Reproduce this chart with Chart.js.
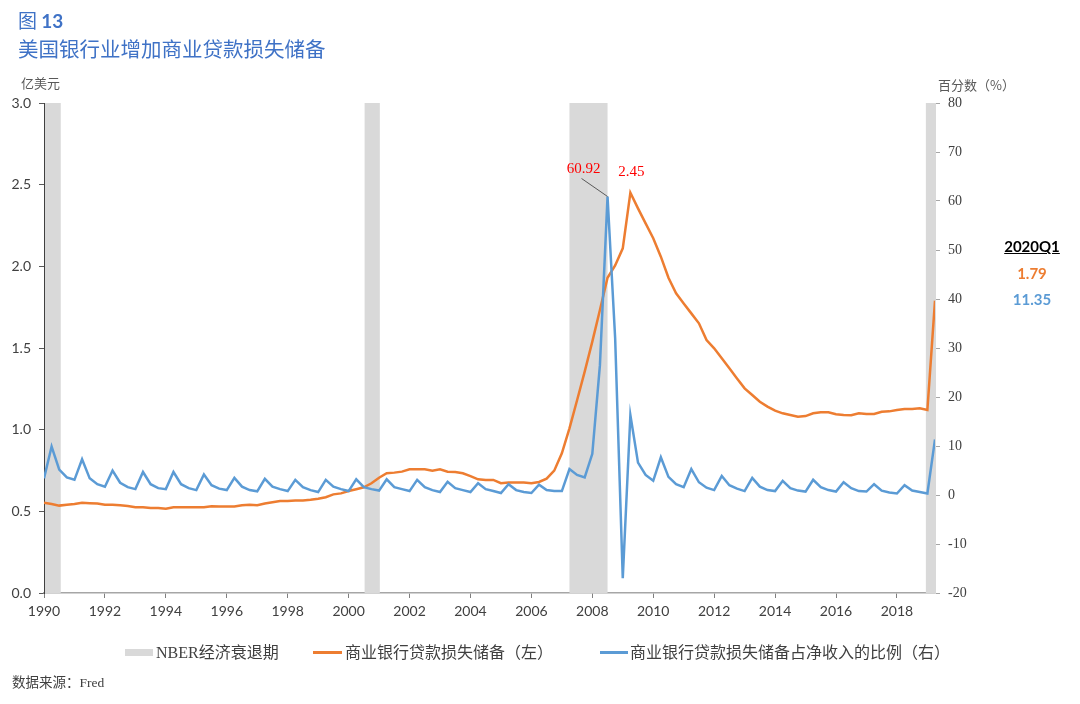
<!DOCTYPE html>
<html>
<head>
<meta charset="utf-8">
<script src="https://cdn.jsdelivr.net/npm/chart.js@4.4.1/dist/chart.umd.min.js"></script>
<style>
  html, body { margin: 0; padding: 0; background: #fff; }
  #wrap { position: relative; width: 1080px; height: 704px; overflow: hidden; background: #fff; }
  #c { position: absolute; left: 0; top: 0; }
  .t { position: absolute; white-space: nowrap; line-height: 1; }
  .cjk { font-family: "Noto Sans CJK SC", "Noto Sans", sans-serif; }
  .serif { font-family: "Liberation Serif", "Noto Sans CJK SC", serif; }
  .sw { position: absolute; }
</style>
</head>
<body>
<div id="wrap">
  <canvas id="c" width="1080" height="704"></canvas>

  <div class="t cjk" style="left:18px;top:10px;font-size:19px;color:#3F72C6;"><span>图</span> <span style="font-family:Lato,'Noto Sans',sans-serif;font-weight:700;">13</span></div>
  <div class="t cjk" style="left:18px;top:38px;font-size:20.5px;color:#3F72C6;">美国银行业增加商业贷款损失储备</div>

  <div class="t cjk" style="left:21px;top:76px;font-size:13px;color:#595959;">亿美元</div>
  <div class="t cjk" style="left:938px;top:78px;font-size:13px;color:#595959;">百分数（%）</div>

  <div class="t" style="left:996px;top:239px;width:72px;text-align:center;font-family:Lato,sans-serif;font-weight:700;font-size:15px;color:#000;text-decoration:underline;">2020Q1</div>
  <div class="t" style="left:996px;top:266px;width:72px;text-align:center;font-family:Lato,sans-serif;font-weight:700;font-size:15px;color:#ED7D31;">1.79</div>
  <div class="t" style="left:996px;top:292px;width:72px;text-align:center;font-family:Lato,sans-serif;font-weight:700;font-size:15px;color:#5B9BD5;">11.35</div>

  <div class="sw" style="left:125px;top:649px;width:28px;height:7px;background:#D9D9D9;"></div>
  <div class="t serif" style="left:156px;top:645px;font-size:16px;color:#404040;">NBER经济衰退期</div>
  <div class="sw" style="left:313px;top:651px;width:29px;height:3px;background:#ED7D31;"></div>
  <div class="t serif" style="left:345px;top:645px;font-size:16px;color:#404040;">商业银行贷款损失储备（左）</div>
  <div class="sw" style="left:600px;top:651px;width:28px;height:3px;background:#5B9BD5;"></div>
  <div class="t serif" style="left:630px;top:645px;font-size:16px;color:#404040;">商业银行贷款损失储备占净收入的比例（右）</div>

  <div class="t serif" style="left:12px;top:676px;font-size:13.5px;color:#404040;">数据来源：Fred</div>
</div>
<script>
// Quarterly series, index 0 = first quarter shown on the axis
const loanLossReserve = [
  0.553, 0.545, 0.535, 0.540, 0.545, 0.553, 0.550, 0.548, 0.540, 0.540,
  0.537, 0.533, 0.525, 0.525, 0.521, 0.521, 0.516, 0.525, 0.525, 0.525,
  0.525, 0.525, 0.531, 0.529, 0.529, 0.529, 0.537, 0.540, 0.537, 0.548,
  0.555, 0.563, 0.563, 0.567, 0.567, 0.571, 0.577, 0.586, 0.604, 0.610,
  0.624, 0.635, 0.647, 0.672, 0.706, 0.733, 0.737, 0.743, 0.757, 0.757,
  0.757, 0.749, 0.757, 0.743, 0.741, 0.733, 0.716, 0.696, 0.692, 0.692,
  0.672, 0.676, 0.676, 0.676, 0.672, 0.680, 0.700, 0.749, 0.855, 1.008,
  1.180, 1.355, 1.539, 1.733, 1.930, 2.005, 2.110, 2.451, 2.355, 2.263,
  2.172, 2.059, 1.930, 1.835, 1.773, 1.712, 1.651, 1.549, 1.498, 1.437,
  1.376, 1.314, 1.253, 1.212, 1.171, 1.141, 1.116, 1.100, 1.090, 1.079,
  1.083, 1.100, 1.106, 1.106, 1.094, 1.090, 1.088, 1.100, 1.096, 1.096,
  1.110, 1.112, 1.120, 1.127, 1.127, 1.131, 1.120, 1.790
];
const reserveToNetIncome = [
  3.4, 9.9, 5.2, 3.6, 3.1, 7.3, 3.4, 2.2, 1.7, 5.0,
  2.5, 1.6, 1.2, 4.7, 2.2, 1.4, 1.2, 4.7, 2.2, 1.4,
  1.0, 4.2, 2.0, 1.3, 1.0, 3.5, 1.7, 1.0, 0.75, 3.3,
  1.7, 1.2, 0.8, 3.1, 1.6, 1.0, 0.6, 3.1, 1.7, 1.2,
  0.8, 3.2, 1.6, 1.2, 0.9, 3.2, 1.6, 1.2, 0.8, 3.1,
  1.6, 1.0, 0.6, 2.7, 1.4, 1.0, 0.6, 2.4, 1.2, 0.8,
  0.4, 2.2, 1.0, 0.6, 0.4, 2.1, 1.0, 0.8, 0.8, 5.3,
  4.1, 3.6, 8.4, 26.5, 60.92, 32.0, -17.0, 16.3, 6.6, 4.1,
  2.9, 7.7, 3.7, 2.2, 1.6, 5.3, 2.6, 1.5, 1.0, 3.9,
  2.0, 1.3, 0.8, 3.5, 1.7, 1.0, 0.8, 2.9, 1.4, 0.9,
  0.7, 3.1, 1.6, 1.0, 0.7, 2.6, 1.4, 0.8, 0.7, 2.2,
  0.9, 0.5, 0.3, 2.0, 0.9, 0.6, 0.3, 11.35
];
// Year tick positions (quarter index) and labels
const yearTickIdx = [0, 8, 16, 24, 32, 40, 48, 56, 64, 72, 80, 88, 96, 104, 112];
const yearLabels = ['1990', '1992', '1994', '1996', '1998', '2000', '2002', '2004',
                    '2006', '2008', '2010', '2012', '2014', '2016', '2018'];
// NBER recession shading (quarter index start / end)
const recessionStart = [0, 42.1, 69, 115.8];
const recessionEnd = [2.2, 44.1, 74, 117];
// Highlighted peaks
const peakBlueIdx = 74, peakBlueText = '60.92';
const peakOrangeIdx = 77, peakOrangeText = '2.45';

const ORANGE = '#ED7D31', BLUE = '#5B9BD5';

const recessionPlugin = {
  id: 'recession',
  beforeDatasetsDraw(chart) {
    const { ctx, chartArea, scales } = chart;
    ctx.save();
    ctx.fillStyle = '#D9D9D9';
    for (let k = 0; k < recessionStart.length; k++) {
      let x1 = scales.x.getPixelForValue(recessionStart[k]);
      const x2 = scales.x.getPixelForValue(recessionEnd[k]);
      x1 = Math.max(x1, chartArea.left + 1);
      ctx.fillRect(x1, chartArea.top, x2 - x1, chartArea.bottom - chartArea.top);
    }
    ctx.restore();
  }
};

const peakPlugin = {
  id: 'peaks',
  afterDatasetsDraw(chart) {
    const { ctx, scales } = chart;
    ctx.save();
    const bx = scales.x.getPixelForValue(peakBlueIdx);
    const by = scales.y1.getPixelForValue(reserveToNetIncome[peakBlueIdx]);
    ctx.strokeStyle = '#595959';
    ctx.lineWidth = 1;
    ctx.beginPath();
    ctx.moveTo(bx - 26, by - 18);
    ctx.lineTo(bx, by);
    ctx.stroke();
    ctx.fillStyle = '#FF0000';
    ctx.font = '15px "Liberation Serif", serif';
    ctx.textAlign = 'center';
    ctx.textBaseline = 'middle';
    ctx.fillText(peakBlueText, bx - 24, by - 27);
    const ox = scales.x.getPixelForValue(peakOrangeIdx);
    const oy = scales.y.getPixelForValue(loanLossReserve[peakOrangeIdx]);
    ctx.fillText(peakOrangeText, ox + 1, oy - 21);
    ctx.restore();
  }
};

const tickFontSans = { family: 'Lato, "Noto Sans", sans-serif', size: 14 };
const tickFontSerif = { family: '"Liberation Serif", serif', size: 14 };

new Chart(document.getElementById('c'), {
  type: 'line',
  data: {
    datasets: [
      {
        label: '商业银行贷款损失储备（左）',
        data: loanLossReserve.map((v, i) => ({ x: i, y: v })),
        borderColor: ORANGE, backgroundColor: ORANGE,
        borderWidth: 2.5, pointRadius: 0, tension: 0, yAxisID: 'y', order: 1
      },
      {
        label: '商业银行贷款损失储备占净收入的比例（右）',
        data: reserveToNetIncome.map((v, i) => ({ x: i, y: v })),
        borderColor: BLUE, backgroundColor: BLUE,
        borderWidth: 2.5, pointRadius: 0, tension: 0, yAxisID: 'y1', order: 0
      }
    ]
  },
  options: {
    responsive: false,
    animation: false,
    devicePixelRatio: 1,
    layout: { padding: { left: 0, top: 103, right: 100, bottom: 81 } },
    plugins: { legend: { display: false }, tooltip: { enabled: false } },
    scales: {
      x: {
        type: 'linear', position: 'bottom', min: 0, max: loanLossReserve.length - 1,
        afterBuildTicks: s => { s.ticks = yearTickIdx.map(v => ({ value: v })); },
        afterFit: s => { s.height = 30; },
        grid: { drawOnChartArea: false, drawTicks: true, tickLength: 5, tickColor: '#7F7F7F', tickWidth: 1 },
        border: { display: true, color: '#A6A6A6', width: 1.5 },
        ticks: {
          autoSkip: false, maxRotation: 0, padding: 5, color: '#404040', font: tickFontSans,
          callback: (v, i) => yearLabels[i]
        }
      },
      y: {
        position: 'left', min: 0, max: 3,
        afterFit: s => { s.width = 44; },
        grid: { drawOnChartArea: false, drawTicks: true, tickLength: 5, tickColor: '#595959' },
        border: { display: true, color: '#404040', width: 1 },
        ticks: { stepSize: 0.5, padding: 8, color: '#404040', font: tickFontSans, callback: v => v.toFixed(1) }
      },
      y1: {
        position: 'right', min: -20, max: 80,
        afterFit: s => { s.width = 45; },
        grid: { drawOnChartArea: false, drawTicks: true, tickLength: 5, tickColor: '#A6A6A6' },
        border: { display: true, color: '#D9D9D9', width: 1 },
        ticks: { stepSize: 10, padding: 8, color: '#404040', font: tickFontSerif }
      }
    }
  },
  plugins: [recessionPlugin, peakPlugin]
});
</script>
</body>
</html>
